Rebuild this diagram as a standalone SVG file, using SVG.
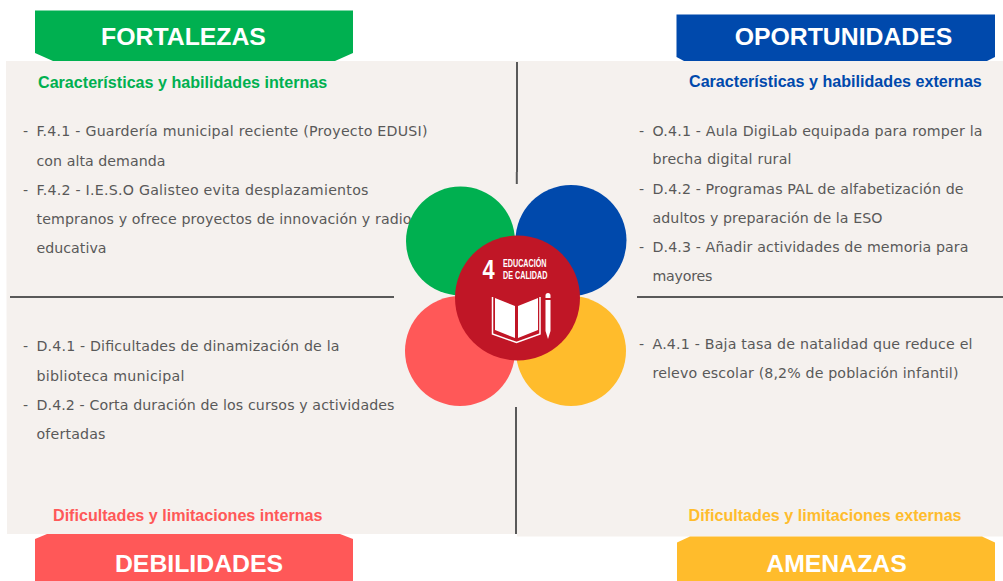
<svg xmlns="http://www.w3.org/2000/svg" width="1003" height="581" viewBox="0 0 1003 581">
<style>
.h{font:700 24.8px "Liberation Sans",Arial,sans-serif;fill:#fff;text-anchor:middle}
.s{font:700 16.12px "Liberation Sans",Arial,sans-serif}
.b{font:14.2px "DejaVu Sans",sans-serif;fill:#595959}
.l{stroke:#595959;stroke-width:2;fill:none}
.w{fill:#fff}
.g{font-family:"Liberation Sans",sans-serif;font-weight:700;font-size:11.5px;fill:#fff}
</style>
<rect width="1003" height="581" fill="#fff"/>
<g id="tab-fortalezas"><path d="M35 10.500H353V53L335 61H53L35 53Z" fill="#00b050"/><text class="h" x="183.500" y="44.500">FORTALEZAS</text></g>
<g id="tab-oportunidades"><path d="M676.500 14.500H995V57L987 61H684L676.500 57Z" fill="#0049ac"/><text class="h" x="843.500" y="44.500">OPORTUNIDADES</text></g>
<g id="panel"><path d="M6 61H1003V536.500H517V534H7Z" fill="#f5f1ee"/></g>
<g id="tab-debilidades"><path d="M35 539L47 534H340L353 539V581H35Z" fill="#ff5858"/><text class="h" x="199" y="572">DEBILIDADES</text></g>
<g id="tab-amenazas"><path d="M677 542.500L690 536.500H982L995 542.500V581H677Z" fill="#ffbc2c"/><text class="h" x="836.500" y="572">AMENAZAS</text></g>
<g id="connectors">
<path class="l" d="M517 62V172M516.800 172V184M10 297H394M637 297H1003M516 407V534"/>
</g>
<g id="label-fortalezas"><text class="s" x="38" y="88" fill="#00b050">Características y habilidades internas</text></g>
<g id="label-oportunidades"><text class="s" x="689" y="87" fill="#0049ac">Características y habilidades externas</text></g>
<g id="label-debilidades"><text class="s" x="53" y="521" fill="#ff5858">Dificultades y limitaciones internas</text></g>
<g id="label-amenazas"><text class="s" x="688.500" y="521" fill="#ffbc2c">Dificultades y limitaciones externas</text></g>
<g id="list-fortalezas">
<text class="b" x="23" y="135.500">-</text><text class="b" x="36.500" y="135.500" textLength="391">F.4.1 - Guardería municipal reciente (Proyecto EDUSI)</text>
<text class="b" x="36.500" y="165.500" textLength="129">con alta demanda</text>
<text class="b" x="23" y="194.500">-</text><text class="b" x="36.500" y="194.500" textLength="332">F.4.2 - I.E.S.O Galisteo evita desplazamientos</text>
<text class="b" x="36.500" y="223.500" textLength="375">tempranos y ofrece proyectos de innovación y radio</text>
<text class="b" x="36.500" y="252.500" textLength="70">educativa</text>
</g>
<g id="list-oportunidades">
<text class="b" x="639" y="136">-</text><text class="b" x="652.500" y="136" textLength="330">O.4.1 - Aula DigiLab equipada para romper la</text>
<text class="b" x="652.500" y="164" textLength="139">brecha digital rural</text>
<text class="b" x="639" y="194">-</text><text class="b" x="652.500" y="194" textLength="311">D.4.2 - Programas PAL de alfabetización de</text>
<text class="b" x="652.500" y="223" textLength="230">adultos y preparación de la ESO</text>
<text class="b" x="639" y="252">-</text><text class="b" x="652.500" y="252" textLength="316">D.4.3 - Añadir actividades de memoria para</text>
<text class="b" x="652.500" y="281" textLength="60">mayores</text>
</g>
<g id="list-debilidades">
<text class="b" x="23" y="350.500">-</text><text class="b" x="36.500" y="350.500" textLength="303">D.4.1 - Dificultades de dinamización de la</text>
<text class="b" x="36.500" y="380.500" textLength="148">biblioteca municipal</text>
<text class="b" x="23" y="409.500">-</text><text class="b" x="36.500" y="409.500" textLength="358">D.4.2 - Corta duración de los cursos y actividades</text>
<text class="b" x="36.500" y="438.500" textLength="69">ofertadas</text>
</g>
<g id="list-amenazas">
<text class="b" x="639" y="349">-</text><text class="b" x="652.500" y="349" textLength="320">A.4.1 - Baja tasa de natalidad que reduce el</text>
<text class="b" x="652.500" y="377.500" textLength="306">relevo escolar (8,2% de población infantil)</text>
</g>
<g id="circle-fortalezas"><circle cx="460.500" cy="241" r="54.500" fill="#00b050"/></g>
<g id="circle-oportunidades"><circle cx="571" cy="240.500" r="55.500" fill="#0049ac"/></g>
<g id="circle-debilidades"><circle cx="460" cy="351" r="55" fill="#ff5858"/></g>
<g id="circle-amenazas"><circle cx="571" cy="351" r="55" fill="#ffbc2c"/></g>
<g id="sdg4">
<circle cx="517.500" cy="298" r="62.500" fill="#c01626"/>
<text class="w" font-family="'Liberation Sans',sans-serif" font-weight="700" font-size="28" transform="translate(482.500 278.500) scale(.78 1)">4</text>
<text class="g" x="503" y="266.500" textLength="43.500" lengthAdjust="spacingAndGlyphs">EDUCACIÓN</text>
<text class="g" x="503" y="278.500" textLength="44.500" lengthAdjust="spacingAndGlyphs">DE CALIDAD</text>
<path class="w" d="M495 298L515 306V338L495 330ZM518 306L538 298V330L518 338Z"/>
<path d="M492.500 297V334L516.500 342.500L540 334V297" fill="none" stroke="#fff" stroke-width="1.500"/>
<path class="w" d="M545.500 295.500a2.500 2.500 0 0 1 5 0V298H545.500ZM545.500 300H550.500V331L548 339L545.500 331Z"/>
</g>
</svg>
